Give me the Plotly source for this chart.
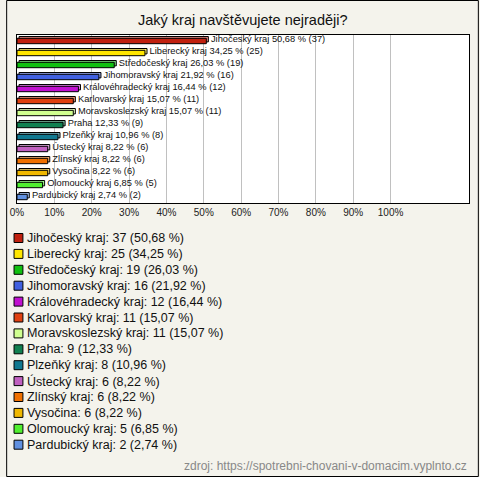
import plotly.graph_objects as go

regions = ["Jihočeský kraj", "Liberecký kraj", "Středočeský kraj", "Jihomoravský kraj",
           "Královéhradecký kraj", "Karlovarský kraj", "Moravskoslezský kraj", "Praha",
           "Plzeňký kraj", "Ústecký kraj", "Zlínský kraj", "Vysočina", "Olomoucký kraj",
           "Pardubický kraj"]
counts = [37, 25, 19, 16, 12, 11, 11, 9, 8, 6, 6, 6, 5, 2]
percents = [50.68, 34.25, 26.03, 21.92, 16.44, 15.07, 15.07, 12.33, 10.96, 8.22, 8.22, 8.22, 6.85, 2.74]
colors = ["#c0200f", "#ffe600", "#10c010", "#4060e0", "#c010d0", "#e04010", "#d0ff90",
          "#108050", "#107890", "#c060c0", "#f07000", "#f0b800", "#50f030", "#6090e0"]
tick_vals = [0, 10, 20, 30, 40, 50, 60, 70, 80, 90, 100]
tick_text = ["0%", "10%", "20%", "30%", "40%", "50%", "60%", "70%", "80%", "90%", "100%"]
title_text = "Jaký kraj navštěvujete nejraději?"
source_text = "zdroj: https://spotrebni-chovani-v-domacim.vyplnto.cz"

FIG_W, FIG_H = 480, 477
L, R, T, B = 11, 470, 35, 203
W, H = R - L, B - T


def px(x):
    return (x - L) / W


def py(y):
    return (B - y) / H


def fmt(v):
    return f"{v:.2f}".replace(".", ",")


def lighten(hexc, f=0.45):
    r, g, b = int(hexc[1:3], 16), int(hexc[3:5], 16), int(hexc[5:7], 16)
    r, g, b = [int(c + (255 - c) * f) for c in (r, g, b)]
    return f"rgb({r},{g},{b})"


bar_labels = ["\u00a0" + f"{r} {fmt(p)} % ({c})" for r, p, c in zip(regions, percents, counts)]
n = len(regions)
fig = go.Figure()

# back (3D depth) face
fig.add_trace(go.Bar(
    y=regions, x=percents, base=0.55, orientation="h",
    width=0.45, offset=-0.225 - 0.15,
    marker=dict(color=[lighten(c) for c in colors], line=dict(color="black", width=1)),
    text=bar_labels, textposition="outside", cliponaxis=False, constraintext="none",
    textfont=dict(size=9.3, color="#111111", family="Arial, Liberation Sans, sans-serif"),
    hoverinfo="skip", showlegend=False,
))
# front face
fig.add_trace(go.Bar(
    y=regions, x=percents, orientation="h",
    width=0.45, offset=-0.225,
    marker=dict(color=colors, line=dict(color="black", width=1)),
    showlegend=False,
))

fig.update_layout(
    width=FIG_W, height=FIG_H,
    margin=dict(l=L, r=FIG_W - R, t=T, b=FIG_H - B, pad=0),
    paper_bgcolor="#f4f3ec", plot_bgcolor="white",
    barmode="overlay", bargap=0.5,
    font=dict(family="Arial, Liberation Sans, sans-serif", color="#222222"),
    xaxis=dict(range=[0, 121], tickvals=tick_vals, ticktext=tick_text,
               showgrid=True, gridcolor="#c0c0c0", gridwidth=1, zeroline=False,
               showline=True, linecolor="black", linewidth=1, mirror=True,
               ticks="", tickfont=dict(size=10, color="#222222"), fixedrange=True),
    yaxis=dict(categoryorder="array", categoryarray=regions, autorange="reversed",
               range=[n - 0.5, -0.5], showticklabels=False, showgrid=False, zeroline=False,
               showline=True, linecolor="black", linewidth=1, mirror=True, ticks="",
               fixedrange=True),
)

annotations = [
    dict(text=title_text, x=px(240), y=py(20), xref="paper", yref="paper",
         xanchor="center", yanchor="middle", showarrow=False,
         font=dict(size=14.5, color="#111111")),
    dict(text=source_text, x=px(470), y=py(466), xref="paper", yref="paper",
         xanchor="right", yanchor="middle", showarrow=False,
         font=dict(size=12, color="#888888")),
]
shapes = [
    dict(type="rect", xref="paper", yref="paper", x0=px(0.5), x1=px(479.5),
         y0=py(0.5), y1=py(476.5), line=dict(color="black", width=1), layer="below"),
]
LEG_Y0, LEG_DY = 238, 15.9
for i, (r, c, p, col) in enumerate(zip(regions, counts, percents, colors)):
    yc = LEG_Y0 + i * LEG_DY
    shapes.append(dict(type="rect", xref="paper", yref="paper",
                       x0=px(8), x1=px(17), y0=py(yc - 4.5), y1=py(yc + 4.5),
                       fillcolor=col, line=dict(color="black", width=1)))
    annotations.append(dict(text=f"{r}: {c} ({fmt(p)} %)", x=px(19.5), y=py(yc),
                            xref="paper", yref="paper", xanchor="left", yanchor="middle",
                            showarrow=False, font=dict(size=12.5, color="#111111")))

fig.update_layout(annotations=annotations, shapes=shapes)
fig.write_html("out.html", config={"displayModeBar": False},
               post_script="document.body.style.margin='0';document.body.style.overflow='hidden';")
